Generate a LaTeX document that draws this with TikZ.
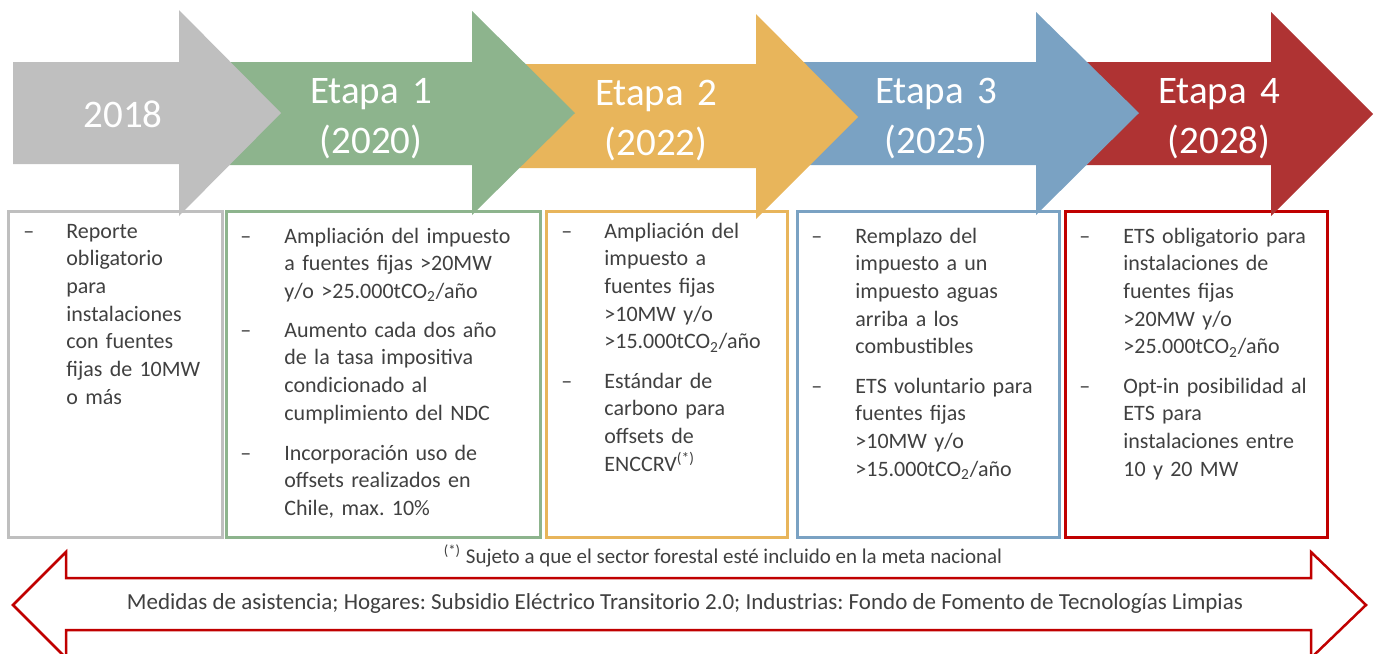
\documentclass[tikz,border=0pt]{standalone}
\usepackage{fontspec}
\setmainfont{Carlito}
\frenchspacing

\definecolor{stagegray}{HTML}{BFBFBF}
\definecolor{stagegreen}{HTML}{8DB48D}
\definecolor{stageorange}{HTML}{E8B55B}
\definecolor{stageblue}{HTML}{7AA2C3}
\definecolor{stagered}{HTML}{AF3333}
\definecolor{boxred}{HTML}{C00000}
\definecolor{textgray}{HTML}{404040}

\newcommand\boxfont{\fontsize{11}{13.85}\selectfont}
\newcommand\stagefont{\fontsize{19.5}{25}\selectfont}

\tikzset{
	boxline/.style={line width=1.5pt},
	dashmark/.style={anchor=base west, inner sep=0pt, font=\boxfont, text=textgray},
	itemtext/.style={anchor=base west, inner sep=0pt, font=\boxfont, text=textgray, text width=140pt, align=left},
	stagetext/.style={anchor=base, inner sep=0pt, font=\stagefont, text=white, text width=120pt, align=center}
}

\begin{document}
\begin{tikzpicture}[x=0.5pt, y=-0.5pt]
	\useasboundingbox (0,0) rectangle (1378,654);
	\clip (0,0) rectangle (1378,654);

	% boxes
	\draw[boxline, stagegray] (8,211) rectangle (222,537);
	\draw[boxline, stagegreen] (226,211) rectangle (540,537);
	\draw[boxline, stageorange] (546,211) rectangle (787,537);
	\draw[boxline, stageblue] (797,211) rectangle (1059,537);
	\draw[boxline, boxred] (1065,211) rectangle (1327,537);

	% Etapa 4
	\fill[stagered] (1036,62)--(1271,62)--(1271,12)--(1373,114)--(1271,216)--(1271,165)--(1036,165)--cycle;
	\node[stagetext] (s4) at (1219,103) {Etapa 4\\(2028)};

	% Etapa 3
	\fill[stageblue] (756,62)--(1036,62)--(1036,12)--(1139,113)--(1036,215)--(1036,165)--(756,165)--cycle;
	\node[stagetext] (s3) at (936,103) {Etapa 3\\(2025)};

	% Etapa 2
	\fill[stageorange] (472,64)--(756,64)--(756,14)--(858,117)--(756,219)--(756,168)--(472,168)--cycle;
	\node[stagetext] (s2) at (656,105) {Etapa 2\\(2022)};

	% Etapa 1
	\fill[stagegreen] (179,62)--(472,62)--(472,11)--(575,113)--(472,215)--(472,165)--(179,165)--cycle;
	\node[stagetext] (s1) at (371,103) {Etapa 1\\(2020)};

	% 2018
	\fill[stagegray] (13,62)--(179,62)--(179,10)--(281,113)--(179,216)--(179,164)--(13,164)--cycle;
	\node[stagetext] (s0) at (123,127) {2018};

	% items 2018
	\node[dashmark] (d1) at (23,238) {–};
	\node[itemtext] (t1) at (66,238) {Reporte\\obligatorio\\para\\instalaciones\\con fuentes\\fijas de 10MW\\o más};

	% items Etapa 1
	\node[dashmark] (d2a) at (240,243) {–};
	\node[itemtext] (t2a) at (284,243) {Ampliación del impuesto\\a fuentes fijas >20MW\\y/o >25.000tCO\textsubscript{2}/año};
	\node[dashmark] (d2b) at (240,337) {–};
	\node[itemtext] (t2b) at (284,337) {Aumento cada dos año\\de la tasa impositiva\\condicionado al\\cumplimiento del NDC};
	\node[dashmark] (d2c) at (240,460) {–};
	\node[itemtext] (t2c) at (284,460) {Incorporación uso de\\offsets realizados en\\Chile, max. 10\%};

	% items Etapa 2
	\node[dashmark] (d3a) at (561,238) {–};
	\node[itemtext] (t3a) at (604,238) {Ampliación del\\impuesto a\\fuentes fijas\\>10MW y/o\\>15.000tCO\textsubscript{2}/año};
	\node[dashmark] (d3b) at (561,388) {–};
	\node[itemtext] (t3b) at (604,388) {Estándar de\\carbono para\\offsets de\\ENCCRV\textsuperscript{(*)}};

	% items Etapa 3
	\node[dashmark] (d4a) at (811,243) {–};
	\node[itemtext] (t4a) at (855,243) {Remplazo del\\impuesto a un\\impuesto aguas\\arriba a los\\combustibles};
	\node[dashmark] (d4b) at (811,393) {–};
	\node[itemtext] (t4b) at (855,393) {ETS voluntario para\\fuentes fijas\\>10MW y/o\\>15.000tCO\textsubscript{2}/año};

	% items Etapa 4
	\node[dashmark] (d5a) at (1079,243) {–};
	\node[itemtext] (t5a) at (1123,243) {ETS obligatorio para\\instalaciones de\\fuentes fijas\\>20MW y/o\\>25.000tCO\textsubscript{2}/año};
	\node[dashmark] (d5b) at (1079,393) {–};
	\node[itemtext] (t5b) at (1123,393) {Opt-in posibilidad al\\ETS para\\instalaciones entre\\10 y 20 MW};

	% footnote
	\node[anchor=base, inner sep=0pt, font=\fontsize{10.5}{12}\selectfont, text=textgray] (nota) at (723,563) {\textsuperscript{(*)} Sujeto a que el sector forestal esté incluido en la meta nacional};

	% double arrow
	\draw[line width=1.25pt, boxred, fill=white] (13,605)--(66,552)--(66,578)--(1311,578)--(1311,552)--(1366,605)--(1311,658)--(1311,630)--(66,630)--(66,658)--cycle;
	\node[anchor=base, inner sep=0pt, font=\fontsize{11.5}{13}\selectfont, text=textgray] (medidas) at (685,609) {Medidas de asistencia; Hogares: Subsidio Eléctrico Transitorio 2.0; Industrias: Fondo de Fomento de Tecnologías Limpias};

\end{tikzpicture}
\end{document}
